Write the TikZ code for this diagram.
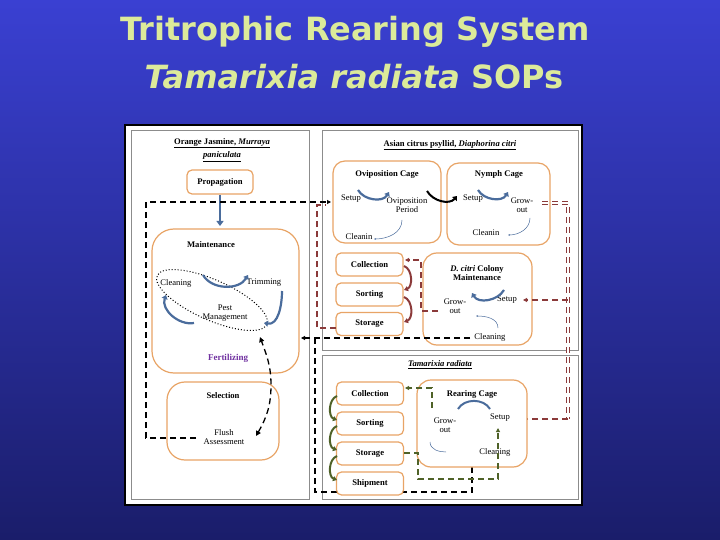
\documentclass[tikz,border=0pt]{standalone}
\usepackage{fontspec}
\setmainfont{Liberation Serif}
\newfontfamily\titlefont{DejaVu Sans}
\usetikzlibrary{arrows.meta,shadows}
\definecolor{bgtop}{HTML}{3A40D2}
\definecolor{bgbot}{HTML}{1A1D6A}
\definecolor{ttl}{HTML}{DCEA9A}
\definecolor{orng}{HTML}{E8A466}
\definecolor{sblue}{HTML}{4A6C9C}
\definecolor{brn}{HTML}{8B3A3A}
\definecolor{grn}{HTML}{4F6228}
\definecolor{purp}{HTML}{7030A0}
\definecolor{pgray}{HTML}{8C8C8C}
\tikzset{
  panel/.style={draw=pgray,line width=1pt},
  obox/.style={draw=orng,line width=1.2pt,rounded corners=#1,fill=white},
  obox/.default=10pt,
  lbl/.style={font=\fontsize{8.6}{9.5}\selectfont,inner sep=0pt,align=center},
  blbl/.style={lbl,font=\fontsize{8.6}{9.5}\selectfont\bfseries},
  barc/.style={sblue,line width=2.2pt,-{Triangle[length=4pt,width=6pt]}},
  tarc/.style={sblue,line width=0.5pt,-{Stealth[length=2pt]}},
  kdash/.style={black,line width=1.3pt,dash pattern=on 6pt off 4pt},
  bdash/.style={brn,line width=1.3pt,dash pattern=on 6pt off 4pt},
  gdash/.style={grn,line width=1.1pt,dash pattern=on 6pt off 4pt},
  tip/.style={-{Triangle[length=4pt,width=4pt]}},
  ttlstyle/.style={ttl,font=\titlefont\fontsize{32}{36}\selectfont\bfseries},
}
\begin{document}
\begin{tikzpicture}[x=1pt,y=-1pt]
\shade[top color=bgtop,bottom color=bgbot] (0,0) rectangle (720,540);
\useasboundingbox (0,0) rectangle (720,540);
% titles
\node[ttlstyle] (t1) at (355,32) {Tritrophic Rearing System};
\node[ttlstyle] (t2) at (354,77) {\textit{Tamarixia radiata} SOPs};
% panel
\draw[fill=white,draw=black,line width=1.5pt] (125,125) rectangle (582,505);
\draw[panel] (131,131) rectangle (309,499);
\draw[panel] (322,131) rectangle (578,350);
\draw[panel] (322,355) rectangle (578,499);
% left panel
\node[blbl] (ltitle) at (222,150) {\underline{Orange Jasmine, \textit{Murraya}}\\[3pt]\underline{\textit{paniculata}}};
\node[obox=5pt,blbl,minimum width=66pt,minimum height=24pt] (prop) at (220,182) {Propagation};
\draw[obox=22pt] (152,229) rectangle (299,373);
\node[blbl] (maint) at (211,245) {Maintenance};
\node[lbl] (clean) at (176,283) {Cleaning};
\node[lbl] (trim) at (264,283) {Trimming};
\node[lbl] (pest) at (225,313) {Pest\\Management};
\node[lbl,text=purp,font=\fontsize{9}{10}\selectfont\bfseries] (fert) at (228,358) {Fertilizing};
\draw[sblue,line width=2.5pt,-{Triangle[length=5pt,width=7pt]}] (prop.south) -- (220,226);
\draw[black,line width=1pt,dotted,rotate around={-24:(212,300)}] (212,300) ellipse [x radius=60, y radius=20];
\draw[barc] (203,275) to[out=-60,in=-120] (248,275);
\draw[barc] (282,291) to[out=-90,in=-10] (264,323);
\draw[barc] (194,323) to[out=190,in=-110] (166,295);
\draw[obox=18pt] (167,382) rectangle (279,460);
\node[blbl] (sel) at (223,396) {Selection};
\node[lbl] (flush) at (224,437) {Flush\\Assessment};
\draw[kdash,{Triangle[length=5pt,width=5pt]}-{Triangle[length=5pt,width=5pt]}] (256,436) to[out=60,in=-90] (271,385) to[out=90,in=-70] (260,337);
% right top panel
\node[blbl] (rtitle) at (450,145) {\underline{Asian citrus psyllid, \textit{Diaphorina citri}}};
\draw[obox=12pt] (333,161) rectangle (441,243);
\node[blbl] (ovc) at (387,174) {Oviposition Cage};
\node[lbl] (ovset) at (351,199) {Setup};
\node[lbl] (ovper) at (407,205) {Oviposition\\Period};
\node[lbl] (ovcl) at (359,237) {Cleanin};
\draw[barc] (358,190) to[out=-60,in=-120] (389,192);
\draw[tarc] (402,220) to[out=-90,in=0] (374,239);
\draw[obox=12pt] (447,163) rectangle (550,245);
\node[blbl] (nyc) at (499,174) {Nymph Cage};
\node[lbl] (nyset) at (473,199) {Setup};
\node[lbl] (nygro) at (522,205) {Grow-\\out};
\node[lbl] (nycl) at (486,233) {Cleanin};
\draw[barc] (478,190) to[out=-60,in=-120] (508,192);
\draw[tarc] (530,218) to[out=-90,in=0] (508,235);
\draw[black,line width=2pt,-{Triangle[length=4pt,width=6pt]}] (427,191) to[out=-60,in=-130] (457,196);
\node[obox=5pt,blbl,minimum width=67pt,minimum height=23pt] (col1) at (369.5,264.5) {Collection};
\node[obox=5pt,blbl,minimum width=67pt,minimum height=23pt] (sor1) at (369.5,294.5) {Sorting};
\node[obox=5pt,blbl,minimum width=67pt,minimum height=23pt] (sto1) at (369.5,324) {Storage};
\draw[brn,line width=2pt,-{Triangle[length=4pt,width=5pt]}] (404,266) to[out=-20,in=20] (404,290);
\draw[brn,line width=2pt,-{Triangle[length=4pt,width=5pt]}] (404,297) to[out=-20,in=20] (404,322);
\draw[obox=14pt] (423,253) rectangle (532,345);
\node[blbl] (colt) at (477,273) {\textit{D. citri} Colony\\Maintenance};
\node[lbl] (cgro) at (455,306) {Grow-\\out};
\node[lbl] (cset) at (507,300) {Setup};
\node[lbl] (ccl) at (490,337) {Cleaning};
\draw[barc] (504,290) to[out=-120,in=-60] (472,293);
\draw[tarc] (498,328) to[out=90,in=0] (476,316);
% brown dashed lines
\draw[bdash,double,double distance=1.5pt] (542,203) -- (568,203) -- (568,419);
\draw[bdash,tip] (568,300) -- (523,300);
\draw[bdash,tip] (568,419) -- (518,419);
\draw[bdash,tip] (438,311) -- (421,311) -- (421,260) -- (405,260);
\draw[bdash] (336,328) -- (317,328) -- (317,205) -- (326,205);
% black dashed
\draw[kdash,tip] (196,438) -- (146,438) -- (146,202) -- (331,202);
\draw[kdash,tip] (470,338) -- (315,338) -- (301,338);
\draw[kdash] (315,338) -- (315,492) -- (472,492) -- (472,460);
% right bottom panel
\node[blbl] (ttitle) at (440,365) {\underline{\textit{Tamarixia radiata}}};
\node[obox=5pt,blbl,minimum width=67pt,minimum height=23pt] (col2) at (370,393.5) {Collection};
\node[obox=5pt,blbl,minimum width=67pt,minimum height=23pt] (sor2) at (370,423.5) {Sorting};
\node[obox=5pt,blbl,minimum width=67pt,minimum height=23pt] (sto2) at (370,453.5) {Storage};
\node[obox=5pt,blbl,minimum width=67pt,minimum height=23pt] (shp2) at (370,483.5) {Shipment};
\draw[grn,line width=2pt,-{Triangle[length=4pt,width=5pt]}] (337,396) to[out=200,in=160] (337,420);
\draw[grn,line width=2pt,-{Triangle[length=4pt,width=5pt]}] (337,426) to[out=200,in=160] (337,450);
\draw[grn,line width=2pt,-{Triangle[length=4pt,width=5pt]}] (337,456) to[out=200,in=160] (337,480);
\draw[obox=14pt] (417,380) rectangle (527,467);
\node[blbl] (rct) at (472,394) {Rearing Cage};
\node[lbl] (rgro) at (445,425) {Grow-\\out};
\node[lbl] (rset) at (500,418) {Setup};
\node[lbl] (rcl) at (495,452) {Cleaning};
\draw[sblue,line width=2pt] (458,409) to[out=60,in=120] (490,409);
\draw[tarc,-] (430,442) to[out=-90,in=180] (446,452);
\draw[gdash,tip] (432,408) -- (432,388) -- (405,388);
\draw[gdash,tip] (404,453) -- (418,453) -- (418,479) -- (498,479) -- (498,428);
\end{tikzpicture}
\end{document}
